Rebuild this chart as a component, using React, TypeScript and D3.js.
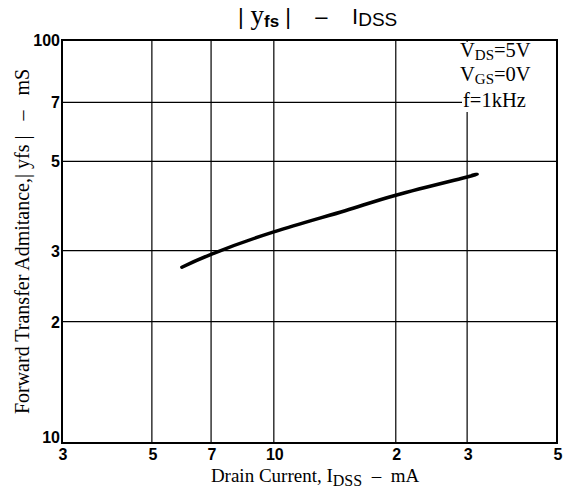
import React from "react";
import * as d3 from "d3";

const xTicks = [3, 5, 7, 10, 20, 30, 50];
const xTickLabels = ["3", "5", "7", "10", "2", "3", "5"];
const yTicks = [10, 20, 30, 50, 70, 100];
const yTickLabels = ["10", "2", "3", "5", "7", "100"];
const curveX = [5.93, 7, 10, 15, 20, 30, 30.9];
const curveY = [27.3, 29.4, 33.4, 37.7, 41.2, 45.7, 46.2];

const W = 570, H = 493;
const L = 62, R = 557, T = 40, B = 443;

export default function App() {
  const x = d3.scaleLog().domain([3, 50]).range([L, R]);
  const y = d3.scaleLog().domain([10, 100]).range([B, T]);
  const pts = curveX.map((v, i) => [x(v), y(curveY[i])] as [number, number]);
  const line = d3.line().curve(d3.curveNatural)(pts) || "";
  const sans = "'Liberation Sans', Arial, sans-serif";
  const serif = "'Liberation Serif', 'Times New Roman', serif";
  const pre = { whiteSpace: "pre" } as React.CSSProperties;
  return (
    <svg width={W} height={H} style={{ position: "absolute", left: 0, top: 0, background: "#fff" }}>
      <rect width={W} height={H} fill="#fff" />
      {xTicks.slice(1, -1).map((t) => (
        <line key={"gx" + t} x1={x(t)} x2={x(t)} y1={T} y2={B} stroke="#000" strokeWidth={1.2} />
      ))}
      {yTicks.slice(1, -1).map((t) => (
        <line key={"gy" + t} x1={L} x2={R} y1={y(t)} y2={y(t)} stroke="#000" strokeWidth={1.2} />
      ))}
      <rect x={462} y={T + 2} width={R - 463} height={70} fill="#fff" />
      <g fontFamily={serif} fontSize={20.5} fill="#000" style={pre}>
        <text x={460} y={57}>V<tspan fontSize={15} dy={3}>DS</tspan><tspan dy={-3}>=5V</tspan></text>
        <text x={460} y={81}>V<tspan fontSize={15} dy={3}>GS</tspan><tspan dy={-3}>=0V</tspan></text>
        <text x={463} y={107}>f=1kHz</text>
      </g>
      <path d={line} fill="none" stroke="#000" strokeWidth={3.5} strokeLinecap="round" />
      <rect x={L} y={T} width={R - L} height={B - T} fill="none" stroke="#000" strokeWidth={2} />
      <g fontFamily={sans} fontWeight="bold" fontSize={16} textAnchor="middle" fill="#000">
        {xTicks.map((t, i) => (
          <text key={"xl" + i} x={x(t) + 1} y={B + 17}>{xTickLabels[i]}</text>
        ))}
      </g>
      <g fontFamily={sans} fontWeight="bold" fontSize={16} textAnchor="end" fill="#000">
        {yTicks.map((t, i) => (
          <text key={"yl" + i} x={L - 2} y={y(t) + (i === 0 ? 0 : 6)}>{yTickLabels[i]}</text>
        ))}
      </g>
      <text x={238} y={24} fontFamily={sans} fontSize={22} style={pre} fill="#000">
        |<tspan fontFamily={serif} fontSize={27}> y</tspan><tspan fontSize={17} dy={3} fontWeight="bold">fs</tspan><tspan dy={-3}> |    –    I</tspan><tspan fontSize={19} dy={2}>DSS</tspan>
      </text>
      <text x={315} y={482} fontFamily={serif} fontSize={19} textAnchor="middle" style={pre} fill="#000">
        Drain Current, I<tspan fontSize={16} dy={4}>DSS</tspan><tspan dy={-4}>  –  mA</tspan>
      </text>
      <text transform={`translate(29,${(T + B) / 2}) rotate(-90)`} fontFamily={serif} fontSize={20} textAnchor="middle" style={pre} fill="#000">
        Forward Transfer Admitance,| yfs |   –   mS
      </text>
    </svg>
  );
}
